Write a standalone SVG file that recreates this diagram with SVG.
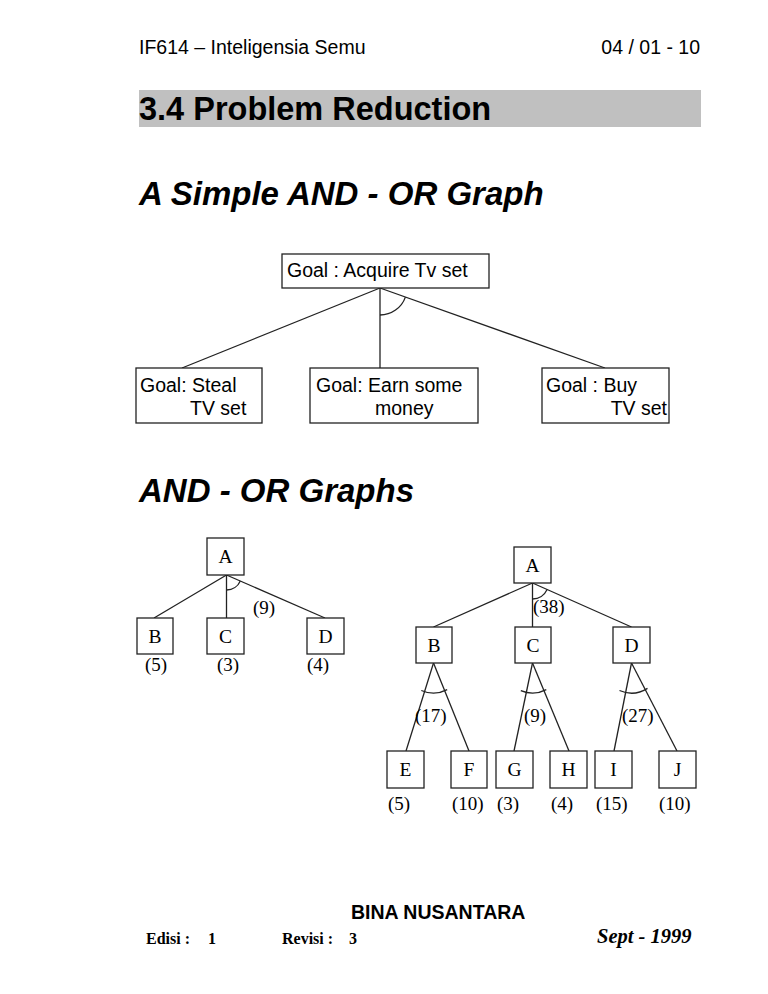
<svg xmlns="http://www.w3.org/2000/svg" width="768" height="994" viewBox="0 0 768 994">
<style>
.hdr{font-family:"Liberation Sans",Arial,sans-serif;font-size:19.5px;fill:#000}
.h1{font-family:"Liberation Sans",Arial,sans-serif;font-size:32.5px;font-weight:bold;fill:#000}
.h2{font-family:"Liberation Sans",Arial,sans-serif;font-size:33px;font-weight:bold;font-style:italic;fill:#000}
.goal{font-family:"Liberation Sans",Arial,sans-serif;font-size:19.5px;fill:#000}
.box{fill:#fff;stroke:#222;stroke-width:1.3}
.ln{fill:none;stroke:#222;stroke-width:1.3}
.tl{font-family:"Liberation Serif","Times New Roman",serif;font-size:19px;fill:#000}
.tc{font-family:"Liberation Serif","Times New Roman",serif;font-size:19.5px;fill:#000;text-anchor:middle}
.ft{font-family:"Liberation Serif","Times New Roman",serif;font-size:16px;font-weight:bold;fill:#000}
</style>
<rect width="768" height="994" fill="#fff"/>
<!-- header -->
<text class="hdr" x="139" y="54">IF614 – Inteligensia Semu</text>
<text class="hdr" x="700" y="54" text-anchor="end">04 / 01 - 10</text>
<rect x="139" y="90" width="562" height="37" fill="#c0c0c0"/>
<text class="h1" x="139" y="120">3.4 Problem Reduction</text>
<text class="h2" x="139" y="205">A Simple AND - OR Graph</text>

<!-- connectors for simple graph -->
<g id="connectors-simple">
  <line class="ln" x1="380" y1="288" x2="182" y2="368"/>
  <line class="ln" x1="380" y1="288" x2="380" y2="368"/>
  <line class="ln" x1="380" y1="288" x2="605" y2="368"/>
  <path class="ln" d="M380 315 A27 27 0 0 0 405.4 297.1"/>
</g>
<g id="goal-acquire">
  <rect class="box" x="282" y="254" width="207" height="34"/>
  <text class="goal" x="287" y="277">Goal : Acquire Tv set</text>
</g>
<g id="goal-steal">
  <rect class="box" x="136" y="368" width="126" height="55"/>
  <text class="goal" x="140" y="392">Goal: Steal</text>
  <text class="goal" x="190" y="415">TV set</text>
</g>
<g id="goal-earn">
  <rect class="box" x="310" y="368" width="168" height="55"/>
  <text class="goal" x="316" y="392">Goal: Earn some</text>
  <text class="goal" x="375" y="415">money</text>
</g>
<g id="goal-buy">
  <rect class="box" x="542" y="368" width="127" height="55"/>
  <text class="goal" x="546" y="392">Goal : Buy</text>
  <text class="goal" x="667" y="415" text-anchor="end">TV set</text>
</g>

<text class="h2" x="139" y="502">AND - OR Graphs</text>

<!-- left AND-OR graph -->
<g id="connectors-left">
  <line class="ln" x1="226.5" y1="575" x2="154" y2="618"/>
  <line class="ln" x1="226.5" y1="575" x2="226.5" y2="618"/>
  <line class="ln" x1="226.5" y1="575" x2="325" y2="618"/>
  <path class="ln" d="M226.5 590 A15 15 0 0 0 240.3 581"/>
</g>
<g id="L-A"><rect class="box" x="207" y="538" width="37" height="37"/><text class="tc" x="225.5" y="563">A</text></g>
<g id="L-B"><rect class="box" x="137" y="618" width="36" height="36"/><text class="tc" x="155" y="643">B</text></g>
<g id="L-C"><rect class="box" x="207" y="618" width="37" height="36"/><text class="tc" x="225.5" y="643">C</text></g>
<g id="L-D"><rect class="box" x="307" y="618" width="37" height="36"/><text class="tc" x="325.5" y="643">D</text></g>
<text class="tl" x="253" y="614">(9)</text>
<text class="tl" x="145" y="671">(5)</text>
<text class="tl" x="217" y="671">(3)</text>
<text class="tl" x="307" y="671">(4)</text>

<!-- right AND-OR graph -->
<g id="connectors-right">
  <line class="ln" x1="532.5" y1="583" x2="433.5" y2="627"/>
  <line class="ln" x1="532.5" y1="583" x2="532.5" y2="627"/>
  <line class="ln" x1="532.5" y1="583" x2="631.5" y2="627"/>
  <path class="ln" d="M532.5 599 A16 16 0 0 0 547.1 589.5"/>
  <line class="ln" x1="433.5" y1="663" x2="406" y2="751"/>
  <line class="ln" x1="433.5" y1="663" x2="469" y2="751"/>
  <path class="ln" d="M421.3 690.5 A30 30 0 0 0 447.2 689.7"/>
  <line class="ln" x1="532.5" y1="663" x2="514" y2="751"/>
  <line class="ln" x1="532.5" y1="663" x2="569" y2="751"/>
  <path class="ln" d="M520.8 690.6 A30 30 0 0 0 546.3 689.6"/>
  <line class="ln" x1="631.5" y1="663" x2="614" y2="751"/>
  <line class="ln" x1="631.5" y1="663" x2="677" y2="751"/>
  <path class="ln" d="M619.5 690.5 A30 30 0 0 0 647.5 688.4"/>
</g>
<g id="R-A"><rect class="box" x="514" y="547" width="37" height="36"/><text class="tc" x="532.5" y="572">A</text></g>
<g id="R-B"><rect class="box" x="416" y="627" width="36" height="36"/><text class="tc" x="434" y="652">B</text></g>
<g id="R-C"><rect class="box" x="515" y="627" width="36" height="36"/><text class="tc" x="533" y="652">C</text></g>
<g id="R-D"><rect class="box" x="613" y="627" width="37" height="36"/><text class="tc" x="631.5" y="652">D</text></g>
<g id="R-E"><rect class="box" x="387" y="751" width="37" height="37"/><text class="tc" x="405.5" y="776">E</text></g>
<g id="R-F"><rect class="box" x="451" y="751" width="36" height="37"/><text class="tc" x="469" y="776">F</text></g>
<g id="R-G"><rect class="box" x="496" y="751" width="37" height="37"/><text class="tc" x="514.5" y="776">G</text></g>
<g id="R-H"><rect class="box" x="550" y="751" width="37" height="37"/><text class="tc" x="568.5" y="776">H</text></g>
<g id="R-I"><rect class="box" x="595" y="751" width="37" height="37"/><text class="tc" x="613.5" y="776">I</text></g>
<g id="R-J"><rect class="box" x="659" y="751" width="37" height="37"/><text class="tc" x="677.5" y="776">J</text></g>
<text class="tl" x="533" y="613">(38)</text>
<text class="tl" x="415" y="722">(17)</text>
<text class="tl" x="524" y="722">(9)</text>
<text class="tl" x="622" y="722">(27)</text>
<text class="tl" x="388" y="810">(5)</text>
<text class="tl" x="452" y="810">(10)</text>
<text class="tl" x="497" y="810">(3)</text>
<text class="tl" x="551" y="810">(4)</text>
<text class="tl" x="596" y="810">(15)</text>
<text class="tl" x="659" y="810">(10)</text>

<!-- footer -->
<text x="351" y="919" style="font-family:'Liberation Sans',Arial,sans-serif;font-size:19.5px;font-weight:bold">BINA NUSANTARA</text>
<text class="ft" x="146" y="944">Edisi  :</text>
<text class="ft" x="208" y="944">1</text>
<text class="ft" x="282" y="944">Revisi :</text>
<text class="ft" x="349" y="944">3</text>
<text x="597" y="943" style="font-family:'Liberation Serif','Times New Roman',serif;font-size:20.5px;font-weight:bold;font-style:italic">Sept - 1999</text>
</svg>
